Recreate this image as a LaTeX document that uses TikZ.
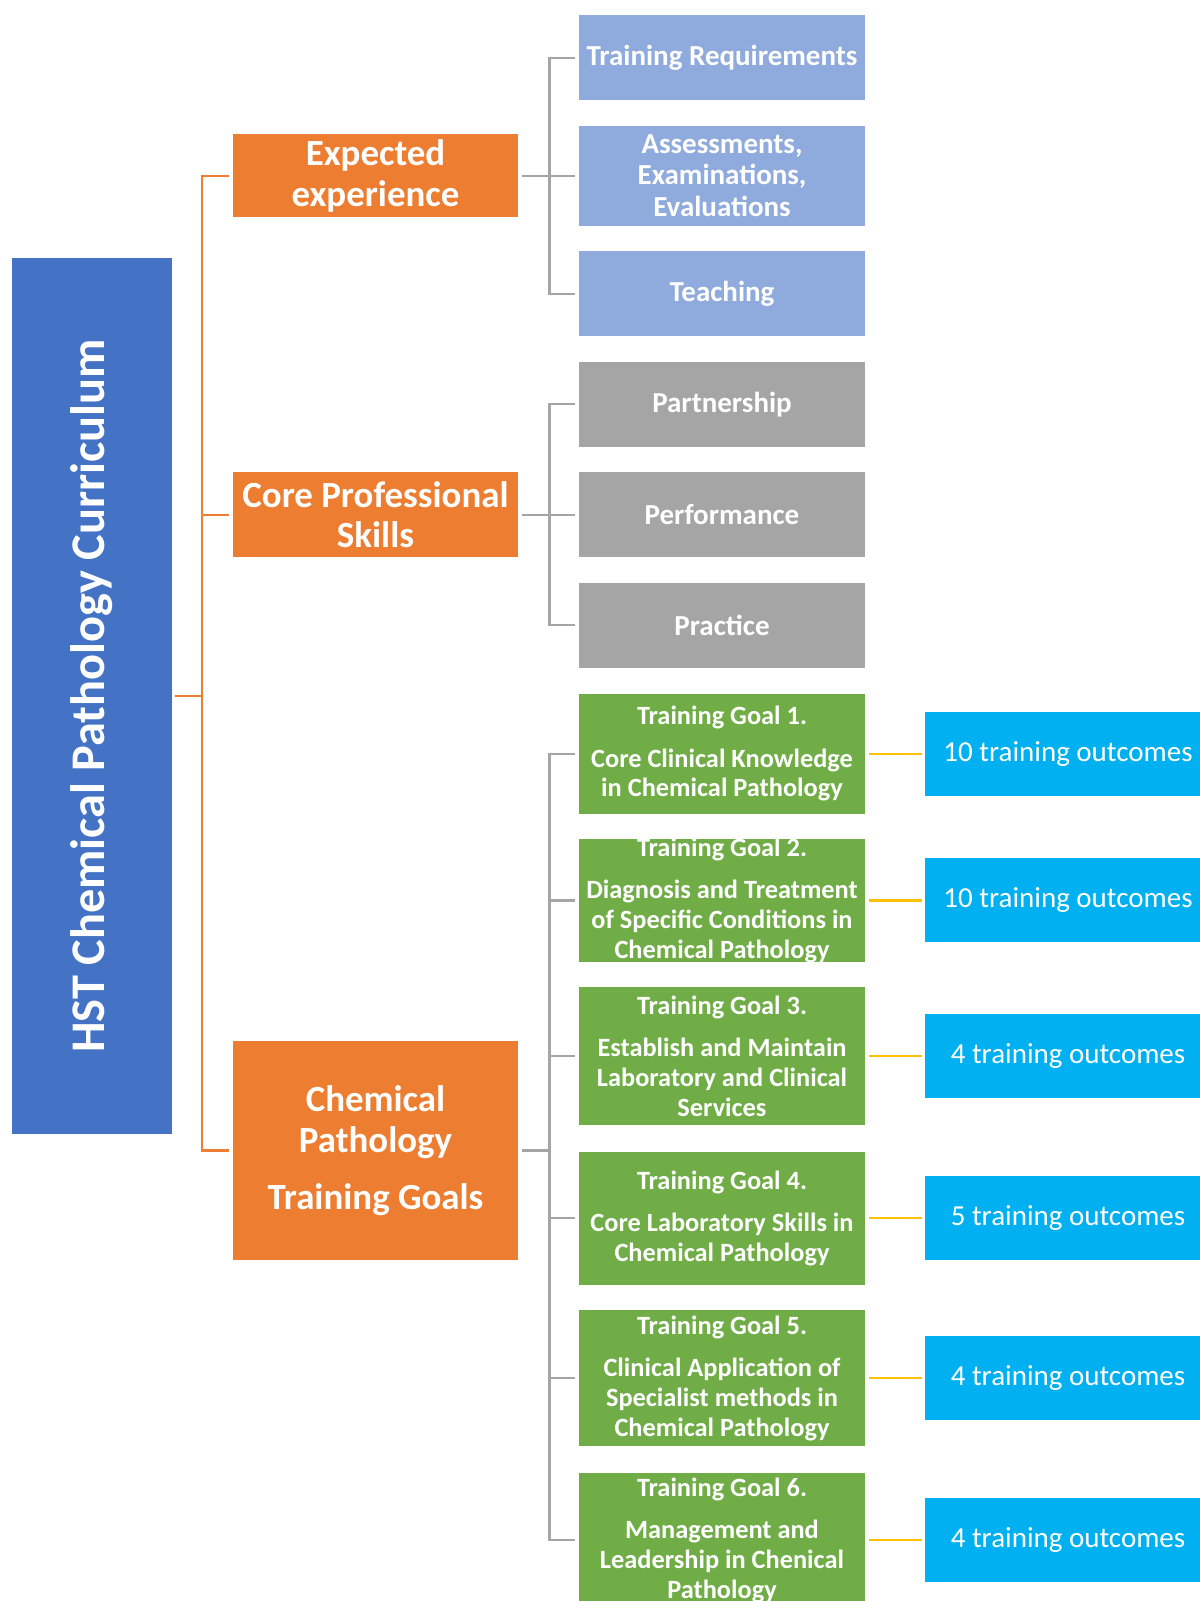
\documentclass[tikz,border=0pt]{standalone}
\usepackage{fontspec}
\setmainfont{Carlito}
\usepackage{xcolor}
\usepackage{tikz}
\usetikzlibrary{positioning, calc}
\definecolor{rootblue}{HTML}{4472C4}
\definecolor{curorange}{HTML}{ED7D31}
\definecolor{paleblue}{HTML}{8FAADC}
\definecolor{midgray}{HTML}{A5A5A5}
\definecolor{goalgreen}{HTML}{70AD47}
\definecolor{skyblue}{HTML}{00B0F0}
\definecolor{linegold}{HTML}{FFC000}

\begin{document}
\begin{tikzpicture}[
		node distance=0.51cm,
		rootbox/.style={rectangle, fill=rootblue, text=white, rotate=90, minimum width=17.51cm, minimum height=3.19cm, inner sep=0pt, outer sep=0pt, align=center, font=\bfseries\fontsize{27.5}{30}\selectfont},
		mainbox/.style={rectangle, fill=curorange, text=white, minimum width=5.70cm, inner sep=0pt, outer sep=0pt, align=center, font=\bfseries\fontsize{21}{23.3}\selectfont},
		subbox/.style={rectangle, text=white, minimum width=5.72cm, minimum height=1.70cm, inner sep=0pt, outer sep=0pt, align=center, font=\bfseries\fontsize{16.5}{18.2}\selectfont},
		goalbox/.style={subbox, fill=goalgreen, font=\bfseries\fontsize{15}{17}\selectfont},
		outbox/.style={rectangle, fill=skyblue, text=white, minimum width=5.72cm, minimum height=1.68cm, inner sep=0pt, outer sep=0pt, font=\fontsize{16.5}{18}\selectfont},
		orangeline/.style={draw=curorange, line width=1.2pt},
		grayline/.style={draw=midgray, line width=1.2pt},
		goldline/.style={draw=linegold, line width=1.2pt}
	]
	\useasboundingbox (0,0) rectangle (24,-32.02);
	\clip (0,0) rectangle (24,-32.02);
	
	% Right column, top to bottom
	\node[subbox, fill=paleblue] (treq) at (14.44,-1.154) {Training Requirements};
	\node[subbox, fill=paleblue, minimum height=2.0cm, below=of treq] (assess) {Assessments,\\Examinations,\\Evaluations};
	\node[subbox, fill=paleblue, below=of assess] (teach) {Teaching};
	\node[subbox, fill=midgray, below=of teach] (partner) {Partnership};
	\node[subbox, fill=midgray, below=of partner] (perf) {Performance};
	\node[subbox, fill=midgray, below=of perf] (practice) {Practice};
	\node[goalbox, minimum height=2.39cm, below=0.53cm of practice] (tg1) {Training Goal 1.\\[7pt]Core Clinical Knowledge\\in Chemical Pathology};
	\node[goalbox, minimum height=2.45cm, inner ysep=-3pt, below=of tg1] (tg2) {Training Goal 2.\\[7pt]Diagnosis and Treatment\\of Specific Conditions in\\Chemical Pathology};
	\node[goalbox, minimum height=2.76cm, below=of tg2] (tg3) {Training Goal 3.\\[7pt]Establish and Maintain\\Laboratory and Clinical\\Services};
	\node[goalbox, minimum height=2.66cm, below=0.53cm of tg3] (tg4) {Training Goal 4.\\[7pt]Core Laboratory Skills in\\Chemical Pathology};
	\node[goalbox, minimum height=2.72cm, below=of tg4] (tg5) {Training Goal 5.\\[7pt]Clinical Application of\\Specialist methods in\\Chemical Pathology};
	\node[goalbox, minimum height=2.70cm, below=0.53cm of tg5] (tg6) {Training Goal 6.\\[7pt]Management and\\Leadership in Chenical\\Pathology};
	
	% Main branches and root
	\node[mainbox, minimum height=1.67cm, left=1.22cm of assess] (exp) {Expected\\experience};
	\node[mainbox, minimum height=1.70cm, left=1.22cm of perf] (core) {Core Professional\\Skills};
	\node[mainbox, minimum height=4.37cm, below=9.68cm of core] (goals) {Chemical\\Pathology\\[9pt]Training Goals};
	\node[rootbox] (root) at (1.84,-13.92) {HST Chemical Pathology Curriculum};
	
	% Outcomes
	\node[outbox, right=1.2cm of tg1] (out1) {10 training outcomes};
	\node[outbox, right=1.2cm of tg2] (out2) {10 training outcomes};
	\node[outbox, right=1.2cm of tg3] (out3) {4 training outcomes};
	\node[outbox, right=1.2cm of tg4] (out4) {5 training outcomes};
	\node[outbox, right=1.2cm of tg5] (out5) {4 training outcomes};
	\node[outbox, right=1.2cm of tg6] (out6) {4 training outcomes};
	
	% Orange spine (root.south is the right side of the turned box)
	\coordinate (obus) at ($(root.south)+(0.61,0)$);
	\draw[orangeline, shorten <=2pt] (root.south) -- (obus);
	\draw[orangeline, shorten <=2pt, shorten >=2pt] (exp.west) -| (obus) |- (goals.west);
	\draw[orangeline, shorten >=2pt] (obus |- core.west) -- (core.west);
	
	% Gray brackets
	\foreach \m/\a/\b/\c in {exp/treq/assess/teach, core/partner/perf/practice}{
		\draw[grayline, shorten <=2pt, shorten >=2pt] (\m.east) -- (\b.west);
		\draw[grayline, shorten <=2pt, shorten >=2pt] (\a.west) -| ($(\m.east)+(0.63,0)$) |- (\c.west);
	}
	\coordinate (gbus) at ($(goals.east)+(0.63,0)$);
	\draw[grayline, shorten <=2pt] (goals.east) -- (gbus);
	\draw[grayline, shorten <=2pt, shorten >=2pt] (tg1.west) -| (gbus) |- (tg6.west);
	\foreach \i in {2,...,5}
		\draw[grayline, shorten >=2pt] (gbus |- tg\i.west) -- (tg\i.west);
	
	% Gold links to outcomes
	\foreach \i in {1,...,6}
		\draw[goldline, shorten <=2pt, shorten >=2pt] (tg\i.east) -- (out\i.west);
\end{tikzpicture}
\end{document}
